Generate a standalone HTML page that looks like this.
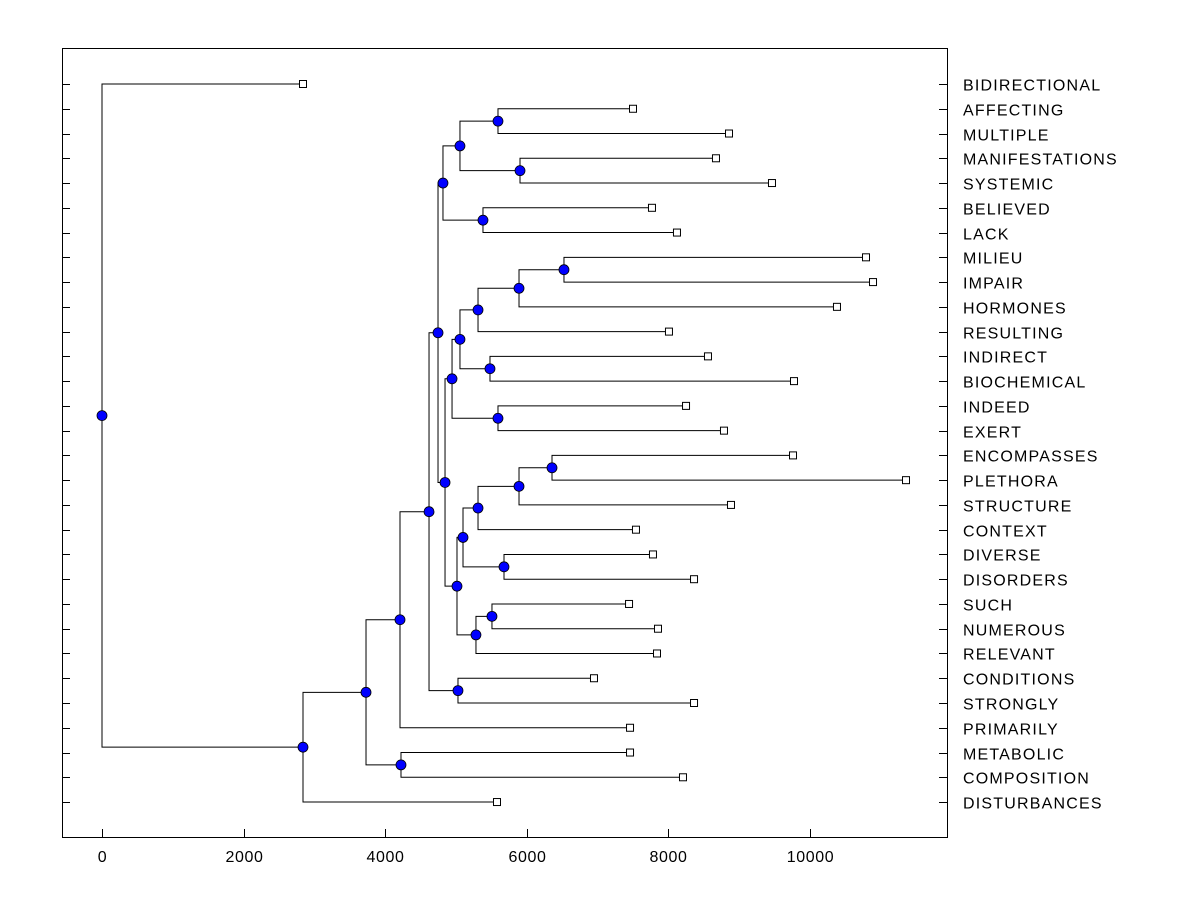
<!DOCTYPE html>
<html><head><meta charset="utf-8"><style>
html,body{margin:0;padding:0;background:#fff;}
svg{display:block;font-family:"Liberation Sans",Arial,sans-serif;}
</style></head><body>
<svg id="chart" width="1200" height="900" viewBox="0 0 1200 900">
<rect x="62.5" y="48.5" width="885" height="789" fill="none" stroke="#000" stroke-width="1"/>
<g id="axes"></g>
<g id="tree"></g>
</svg>
<script>
const leaves = ["BIDIRECTIONAL","AFFECTING","MULTIPLE","MANIFESTATIONS","SYSTEMIC","BELIEVED","LACK","MILIEU","IMPAIR","HORMONES","RESULTING","INDIRECT","BIOCHEMICAL","INDEED","EXERT","ENCOMPASSES","PLETHORA","STRUCTURE","CONTEXT","DIVERSE","DISORDERS","SUCH","NUMEROUS","RELEVANT","CONDITIONS","STRONGLY","PRIMARILY","METABOLIC","COMPOSITION","DISTURBANCES"];
const leafValues = [2839,7500,8856,8672,9463,7768,8121,10791,10890,10381,8008,8559,9774,8249,8785,9760,11356,8884,7542,7782,8362,7444,7853,7839,6949,8362,7458,7458,8206,5579];
const mergeLeft = [1,3,5,30,33,7,35,36,11,37,13,39,15,42,43,19,44,21,47,46,41,34,24,51,53,27,54,56,0];
const mergeRight = [2,4,6,31,32,8,9,10,12,38,14,40,16,17,18,20,45,22,23,48,49,50,25,52,26,28,55,29,57];
const mergeHeights = [5593,5904,5381,5056,4816,6525,5890,5311,5480,5056,5593,4944,6356,5890,5311,5678,5099,5508,5282,5014,4845,4746,5028,4619,4209,4223,3729,2839,0];
const xTicks = [0,2000,4000,6000,8000,10000];

const NS = "http://www.w3.org/2000/svg";
const X = v => 102 + v * 0.0708;
const Y = i => 84 + i * 24.76;
function mk(tag, attrs, parent){const e=document.createElementNS(NS,tag);for(const k in attrs)e.setAttribute(k,attrs[k]);parent.appendChild(e);return e;}
const axes=document.getElementById('axes'), tree=document.getElementById('tree');

xTicks.forEach(t=>{
  const x=Math.round(X(t))+0.5;
  const l=mk('line',{x1:x,x2:x,y1:829,y2:837,stroke:'#000'},axes);
  
  
  const tx=mk('text',{x:x,y:862,'text-anchor':'middle','font-size':'16','letter-spacing':'0.6'},axes);
  tx.textContent=t;
  
  
});

const pos = {};
leaves.forEach((name,i)=>{
  pos[i]={x:X(leafValues[i]),y:Y(i)};
  const y=Math.round(Y(i))+0.5;
  const a=mk('line',{x1:62,x2:70,y1:y,y2:y,stroke:'#000'},axes);
  
  
  const b=mk('line',{x1:939,x2:947,y1:y,y2:y,stroke:'#000'},axes);
  
  
  const t=mk('text',{x:963,y:y+6,'font-size':'16','letter-spacing':'1.2'},axes);
  t.textContent=name;
  
  
});

const nodes=[];
mergeHeights.forEach((h,k)=>{
  const id=30+k, a=pos[mergeLeft[k]], b=pos[mergeRight[k]];
  const x=X(h), y=(a.y+b.y)/2;
  pos[id]={x:x,y:y};
  const p=mk('path',{d:`M${a.x} ${a.y}H${x}V${b.y}H${b.x}`,fill:'none',stroke:'#000','stroke-width':1},tree);
  
  
  nodes.push([x,y]);
});
leaves.forEach((n,i)=>{
  const r=mk('rect',{x:pos[i].x-3.5,y:pos[i].y-3.5,width:7,height:7,fill:'#fff',stroke:'#000'},tree);
  
  
});
nodes.forEach(([x,y])=>{
  const c=mk('circle',{cx:x,cy:y,r:5,fill:'#0000ff',stroke:'#000','stroke-width':0.8},tree);
  
  
});
</script>
</body></html>
